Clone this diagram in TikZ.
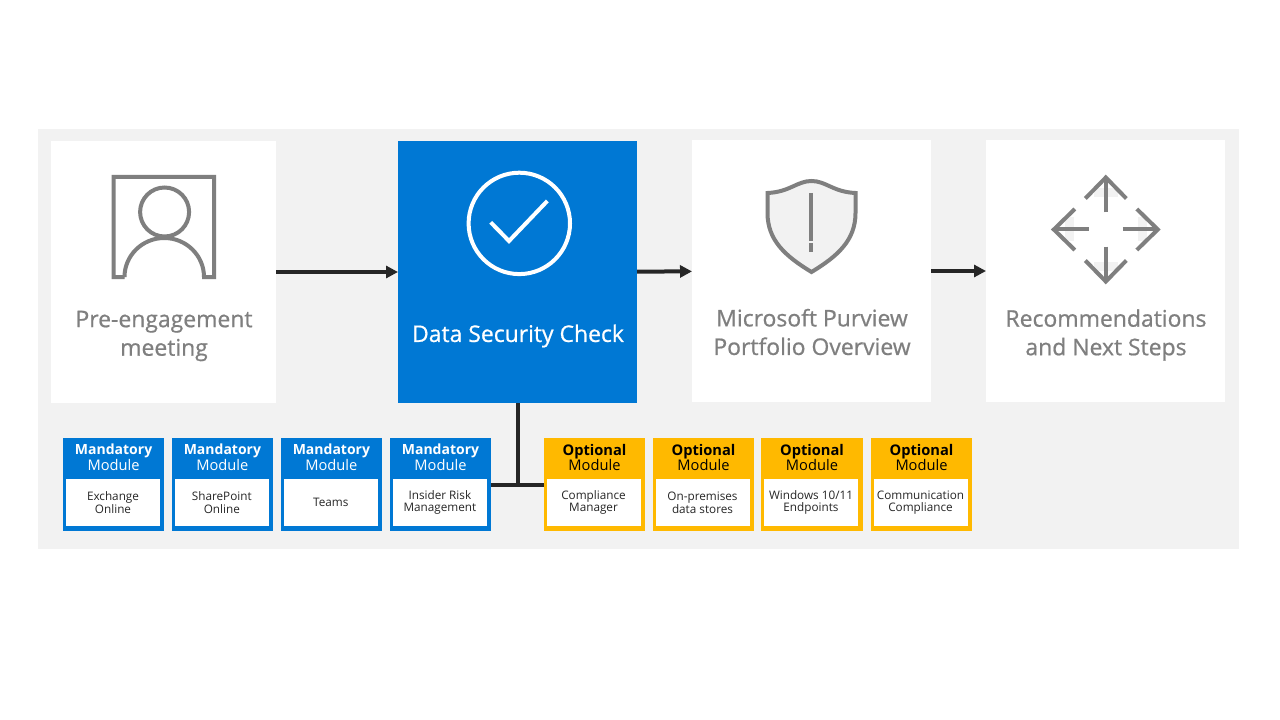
\documentclass[tikz,border=0pt]{standalone}
\usepackage{fontspec}
\setmainfont{Open Sans}
\newfontfamily\heavyfont[FakeBold=0.7]{Open Sans}
\usetikzlibrary{arrows.meta}
\definecolor{band}{HTML}{F2F2F2}
\definecolor{msblue}{HTML}{0078D4}
\definecolor{msyellow}{HTML}{FFB900}
\definecolor{muted}{HTML}{7F7F7F}
\definecolor{ink}{HTML}{262626}
\tikzset{
  panel/.style={fill=white, inner sep=0pt, outer sep=0pt, minimum width=179.25pt, minimum height=196.5pt},
  bluepanel/.style={panel, fill=msblue},
  icon/.style={draw=muted, line width=3pt},
  wicon/.style={draw=white, line width=3pt},
  lbl/.style={text=muted, align=center, font=\heavyfont\fontsize{17.2}{21.4}\selectfont, inner sep=0pt},
  wlbl/.style={lbl, text=white},
  link/.style={draw=ink, line width=3pt},
  flow/.style={link, -{Triangle[length=9pt,width=9pt]}},
  modbox/.style={inner sep=0pt, outer sep=0pt, minimum width=76pt, minimum height=69.75pt},
  modinner/.style={fill=white, text=ink, align=center, inner sep=0pt, minimum width=70.5pt, minimum height=35.25pt, font=\fontsize{8.8}{9.5}\selectfont},
  modhead/.style={align=center, inner sep=0pt, font=\fontsize{11}{11.7}\selectfont}
}
\begin{document}
\begin{tikzpicture}[x=0.75pt,y=-0.75pt]
  \useasboundingbox (0,0) rectangle (1280,720);
  \fill[band] (38,129) rectangle (1239,549);

  % top row
  \node[panel, minimum width=168.75pt] (prep) at (163.5,272) {};
  \node[bluepanel] (check) at (517.5,272) {};
  \node[panel] (purview) at (811.5,271) {};
  \node[panel] (next) at (1105.5,271) {};

  \node[lbl] (prepLbl) at (164,336) {Pre-engagement\\meeting};
  \node[wlbl] (checkLbl) at (518,336) {Data Security Check};
  \node[lbl] (purviewLbl) at (812,332) {Microsoft Purview\\Portfolio Overview};
  \node[lbl] (nextLbl) at (1106,335) {Recommendations\\and Next Steps};

  % person icon
  \draw[icon] (124.5,277) -- (113.5,277) -- (113.5,177) -- (214,177) -- (214,277) -- (204,277)
    arc (0:-180:39.75 and 39);
  \draw[icon] (164.6,212) circle (24.5);

  % check icon
  \draw[wicon] (519.3,223.4) circle (50.7);
  \draw[wicon] (490.7,222.3) -- (509,241) -- (547.3,201);

  % shield icon
  \draw[icon, fill=band] (811.5,181) .. controls (797,181) and (790,192) .. (767.5,193)
    -- (767.5,213) .. controls (767.5,240) and (785,256) .. (811.5,272)
    .. controls (838,256) and (855.5,240) .. (855.5,213) -- (855.5,193)
    .. controls (833,192) and (826,181) .. (811.5,181) -- cycle;
  \draw[icon] (811,193) -- (811,241);
  \draw[icon] (811,243) -- (811,252);

  % four arrows icon
  \foreach \a in {0,90,180,270}{
    \begin{scope}[shift={(1105.8,229.5)}, rotate=\a]
      \fill[band] (-12,-41) rectangle (12,-32);
      \draw[icon] (0,-17) -- (0,-52);
      \draw[icon] (-20.5,-31) -- (0,-52) -- (20.5,-31);
    \end{scope}
  }

  % modules
  \foreach \id/\cx/\body in {
    m1/113.6/Exchange\\Online,
    m2/222.4/SharePoint\\Online,
    m3/331.4/Teams,
    m4/440.5/Insider Risk\\Management}{
    \node[modbox, fill=msblue] (\id) at (\cx,484.5) {};
    \node[modhead, text=white] (\id head) at (\cx,457.5) {{\fontsize{10.5}{11.7}\selectfont\textbf{Mandatory}}\\Module};
    \node[modinner] (\id body) at (\cx-0.6,502.5) {\body};
  }
  \foreach \id/\cx/\body in {
    o1/594.5/Compliance\\Manager,
    o2/703.5/On-premises\\data stores,
    o3/812/{Windows 10/11\\Endpoints},
    o4/921.5/Communication\\Compliance}{
    \node[modbox, fill=msyellow] (\id) at (\cx,484.5) {};
    \node[modhead, text=black] (\id head) at (\cx,457.5) {\textbf{Optional}\\Module};
    \node[modinner] (\id body) at (\cx-1,502.5) {\body};
  }

  % connectors
  \draw[flow] (prep) -- (check);
  \draw[flow] (check) -- (purview);
  \draw[flow] (purview) -- (next);
  \draw[link] (m4) -- (o1);
  \draw[link] (check) -- (check |- m4);
\end{tikzpicture}
\end{document}
